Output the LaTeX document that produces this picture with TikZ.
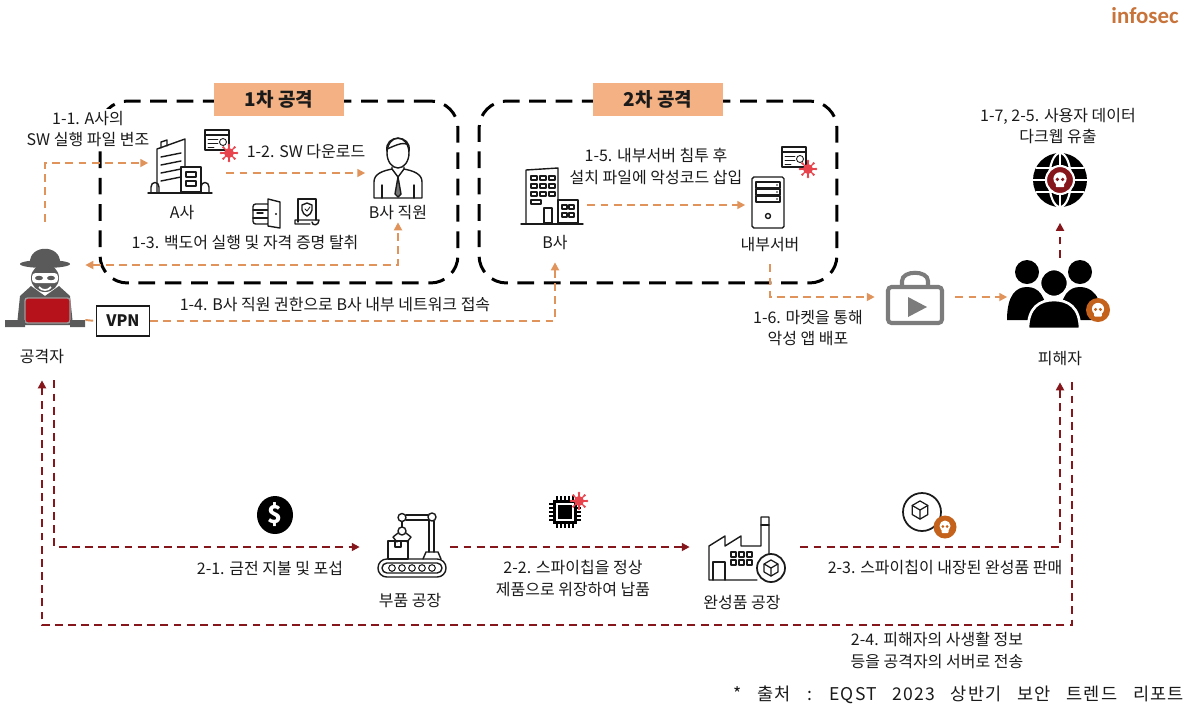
\documentclass[tikz,border=0pt]{standalone}
\usepackage{fontspec}
\setmainfont{Noto Sans CJK KR}
\newfontfamily\brandfont{Carlito}
\newfontfamily\srcfont{Noto Sans CJK KR}[WordSpace=3.2, LetterSpace=6]
\usetikzlibrary{arrows.meta, positioning, calc}

\definecolor{ink}{HTML}{1A1A1A}
\definecolor{flowor}{HTML}{E0945C}
\definecolor{tagor}{HTML}{F4B183}
\definecolor{leakred}{HTML}{84161C}
\definecolor{spygray}{HTML}{5A5A5A}
\definecolor{spyred}{HTML}{B5121B}
\definecolor{germred}{HTML}{E8444E}
\definecolor{skullor}{HTML}{C4621C}
\definecolor{brandor}{HTML}{C8733A}
\definecolor{bagray}{HTML}{7C7C7C}

\begin{document}
\begin{tikzpicture}[
    x=0.02cm, y=-0.02cm,
    flow label/.style={font=\fontsize{9.1}{12.5}\selectfont, text=ink, inner sep=1pt, align=center},
    stage/.style={draw=black, line width=1.7pt, dash pattern=on 9.5pt off 5.5pt,
        rounded corners=0.55cm, minimum width=7.16cm, minimum height=3.64cm},
    stage tag/.style={fill=tagor, text=ink, minimum width=2.6cm, minimum height=0.66cm,
        font=\fontsize{10.8}{12}\selectfont\bfseries},
    spot/.style={inner sep=0pt},
    flow/.style={draw=flowor, line width=1.1pt, dash pattern=on 4.5pt off 3pt,
        -{Triangle[length=4.5pt, width=4.5pt]}},
    flow both/.style={flow, {Triangle[length=4.5pt, width=4.5pt]}-{Triangle[length=4.5pt, width=4.5pt]}},
    leak/.style={draw=leakred, line width=1.1pt, dash pattern=on 4.5pt off 3pt,
        -{Triangle[length=4.5pt, width=4.5pt]}},
    icon/.style={draw=ink, line width=0.8pt, line join=round, line cap=round},
    % --- small icons ---
    pics/skull/.style={code={
        \fill[white] (0,-1) circle (5.5);
        \fill[white, rounded corners=0.5pt] (-3.5,2) rectangle (3.5,6);
        \fill[#1] (-2.2,-0.5) circle (1.5) (2.2,-0.5) circle (1.5);
    }},
    pics/germ/.style={code={
        \fill[germred] (0,0) circle (5);
        \foreach \a in {0,45,...,315} {
            \draw[germred, line width=0.7pt] (0,0) -- (\a:8);
            \fill[germred] (\a:8) circle (1.3);
        }
    }},
    pics/codewin/.style={code={
        \draw[icon, fill=white] (-12,-10) rectangle (12,10);
        \draw[icon] (-12,-5) -- (12,-5);
        \draw[icon, line width=0.5pt] (-9,-1) -- (1,-1) (-9,3) -- (1,3) (-9,7) -- (-3,7);
        \draw[icon, line width=0.5pt] (6,2) circle (3.5);
    }},
    pics/cube/.style={code={
        \draw[icon, line width=0.7pt] (0,-7) -- (6,-3.5) -- (6,3.5) -- (0,7) -- (-6,3.5) -- (-6,-3.5) -- cycle;
        \draw[icon, line width=0.7pt] (-6,-3.5) -- (0,0) -- (6,-3.5) (0,0) -- (0,7);
    }},
    % --- actors ---
    pics/spy/.style={code={
        \fill[spygray] (-28,35) -- (-25,6) -- (-14,-4) -- (0,6) -- (14,-4) -- (25,6) -- (28,35) -- cycle;
        \fill[spygray] (0,-12) circle (14);
        \fill[white, rounded corners=2pt] (-13,-17) rectangle (13,-7);
        \fill[spygray] (-6,-12) ellipse [x radius=4, y radius=2.2] (6,-12) ellipse [x radius=4, y radius=2.2];
        \draw[white, line width=1pt] (-6,-3) .. controls (-3,1) and (3,1) .. (6,-3);
        \fill[spygray] (-15,-27) .. controls (-16,-46) and (16,-46) .. (15,-27) -- cycle;
        \fill[spygray] (0,-26) ellipse [x radius=25, y radius=4];
        \filldraw[fill=spyred, draw=spygray!60, line width=0.8pt, rounded corners=1.5pt] (-20,8) rectangle (25,33);
        \fill[spygray] (-40,30) rectangle (-20,37) (25,30) rectangle (40,37);
    }},
    pics/employee/.style={code={
        \draw[icon] (0,-13) ellipse [x radius=11, y radius=15];
        \draw[icon] (-11,-15) .. controls (-14,-32) and (14,-32) .. (11,-15);
        \draw[icon] (-11,-17) .. controls (-4,-20) and (4,-24) .. (9,-22);
        \draw[icon] (-24,32) -- (-24,16) .. controls (-24,8) and (-16,5) .. (-6,3)
            (6,3) .. controls (16,5) and (24,8) .. (24,16) -- (24,32) -- (-24,32);
        \draw[icon] (-6,1) -- (-6,3) -- (0,11) -- (6,3) -- (6,1);
        \filldraw[icon, fill=ink!60] (0,11) -- (-3,28) -- (0,31) -- (3,28) -- cycle;
        \draw[icon] (-16,19) -- (-16,32) (16,19) -- (16,32);
    }},
    pics/crowd/.style={code={
        \fill[black] (-28,-21) circle (12) (25,-21) circle (12);
        \fill[black] (-48,27) .. controls (-48,2) and (-39,-6) .. (-28,-6) .. controls (-17,-6) and (-8,2) .. (-8,27) -- cycle;
        \fill[black] (5,27) .. controls (5,2) and (14,-6) .. (25,-6) .. controls (36,-6) and (47,2) .. (47,27) -- cycle;
        \filldraw[black, draw=white, line width=1.5pt] (-1,-10) circle (14);
        \filldraw[black, draw=white, line width=1.5pt] (-27,36) .. controls (-27,14) and (-15,7) .. (-1,7) .. controls (13,7) and (25,14) .. (25,36) -- cycle;
        \fill[skullor] (43,17) circle (12);
        \pic[scale=1.1] at (43,17) {skull=skullor};
    }},
    % --- places ---
    pics/tower/.style={code={
        \draw[icon] (-24,27) -- (-24,-16) -- (4,-26) -- (4,2);
        \draw[icon] (-20,-17) -- (-20,-23) -- (-14,-25) -- (-14,-19);
        \foreach \yy in {-8,0,8,16}
            \draw[icon] (-20,\yy) -- (0,\yy-4);
        \draw[icon] (0,2) rectangle (20,27);
        \draw[icon] (5,7) rectangle (15,12) (5,16) rectangle (15,21);
        \draw[icon] (-30,27) -- (-30,22) .. controls (-30,16) and (-22,16) .. (-22,22) -- (-22,27);
        \draw[icon] (20,27) -- (20,22) .. controls (20,16) and (28,16) .. (28,22) -- (28,27);
        \draw[icon] (-33,28) -- (31,28);
    }},
    pics/bcomp/.style={code={
        \draw[icon] (-26,27) -- (-26,-26) -- (6,-28) -- (6,27);
        \foreach \xx in {-21,-12,-3}
            \foreach \yy in {-20,-12,-4}
                \draw[icon, line width=0.6pt] (\xx,\yy) rectangle ++(6,4);
        \draw[icon, line width=0.6pt] (-21,4) rectangle ++(10,4);
        \draw[icon] (-8,12) rectangle (0,27);
        \draw[icon] (6,4) rectangle (26,27);
        \foreach \xx in {10,17}
            \foreach \yy in {9,17}
                \draw[icon, line width=0.6pt] (\xx,\yy) rectangle ++(5,4);
        \draw[icon] (-31,28) -- (31,28);
    }},
    pics/server/.style={code={
        \draw[icon, rounded corners=1pt] (-16,-25) rectangle (16,26);
        \foreach \yy in {-20,-13,-6} {
            \draw[icon] (-12,\yy) rectangle (12,\yy+6);
            \fill[ink] (9,\yy+3) circle (0.9);
        }
        \draw[icon] (0,14) circle (2.5);
    }},
    pics/vault/.style={code={
        \draw[icon, rounded corners=1.5pt] (-15,-9) rectangle (2,11);
        \draw[icon] (-15,-3) -- (2,-3) (-15,5) -- (2,5);
        \draw[icon] (-11,0) -- (-5,0);
        \filldraw[icon, fill=white] (0,-14) -- (12,-11) -- (12,15) -- (0,13) -- cycle;
        \fill[ink] (8,1) circle (1.1);
    }},
    pics/cert/.style={code={
        \draw[icon] (-8,10) -- (-8,-13) -- (10,-13) -- (10,8);
        \draw[icon] (-11,8) -- (13,8) .. controls (13,14) and (6,14) .. (6,10) (-11,8) -- (-11,12) -- (4,12);
        \draw[icon] (1,-9) -- (6,-7) -- (6,-2) .. controls (6,1) and (3,3) .. (1,4) .. controls (-1,3) and (-4,1) .. (-4,-2) -- (-4,-7) -- cycle;
        \draw[icon, line width=0.5pt] (-1,-3) -- (1,-1) -- (4,-5);
    }},
    pics/market/.style={code={
        \draw[bagray, line width=2.3pt, rounded corners=2pt] (-27,-15) rectangle (27,21);
        \draw[bagray, line width=2.3pt] (-13,-15) -- (-13,-21) .. controls (-13,-32) and (13,-32) .. (13,-21) -- (13,-15);
        \fill[bagray] (-7,-5) -- (-7,15) -- (12,5) -- cycle;
    }},
    pics/globe/.style={code={
        \fill[black] (0,0) circle (27);
        \draw[white, line width=1.2pt] (0,0) ellipse [x radius=11, y radius=27];
        \draw[white, line width=1.2pt] (0,-27) -- (0,27) (-27,0) -- (27,0)
            (-24,-12) -- (24,-12) (-24,12) -- (24,12);
        \filldraw[fill=leakred, draw=white, line width=1.2pt] (0,0) circle (14);
        \pic[scale=1.2] at (0,0) {skull=leakred};
    }},
    pics/coin/.style={code={
        \fill[black] (0,0) ellipse [x radius=18, y radius=19];
        \node[text=white, font=\fontsize{14}{14}\selectfont\bfseries] (-sign) at (0,0) {\$};
    }},
    pics/robot/.style={code={
        \draw[icon, rounded corners=5pt] (-34,12) rectangle (34,30);
        \draw[icon, rounded corners=2.8pt] (-30,16) rectangle (30,26);
        \foreach \xx in {-20,-10,0,10,20}
            \draw[icon, line width=0.6pt] (\xx,21) circle (3.3);
        \draw[icon] (-24,-6) rectangle (-4,12);
        \draw[icon] (-17,-6) rectangle (-11,0);
        \draw[icon] (11,12) -- (14,5) -- (26,5) -- (29,12);
        \draw[icon] (17,5) -- (17,-27) (22,5) -- (22,-26);
        \draw[icon] (16,-32) -- (-6,-32) (16,-27) -- (-6,-27);
        \filldraw[icon, fill=white] (20,-30) circle (4);
        \filldraw[icon, fill=white] (-10,-29.5) circle (4);
        \draw[icon] (-10,-25) -- (-10,-20);
        \draw[icon] (-10,-16) circle (4);
        \draw[icon] (-14,-14) -- (-19,-10) -- (-15,-5) (-6,-14) -- (-1,-10) -- (-5,-5);
    }},
    pics/chip/.style={code={
        \foreach \t in {-8,-4,0,4,8}
            \draw[black, line width=1pt] (\t,-16) -- (\t,16) (-16,\t) -- (16,\t);
        \fill[black] (-12,-12) rectangle (12,12);
        \draw[white, line width=0.8pt] (-8,-8) rectangle (8,8);
        \pic at (14,-11) {germ};
    }},
    pics/factory/.style={code={
        \draw[icon] (12,30) -- (-36,30) -- (-36,-4) -- (-20,-14) -- (-20,-4) -- (-4,-14) -- (-4,-4)
            -- (16,-4) -- (16,-33) -- (24,-33) -- (24,4);
        \draw[icon] (16,-25) -- (24,-25);
        \draw[icon] (-32,30) -- (-32,12) -- (-20,12) -- (-20,30);
        \foreach \xx in {-14,-6,2}
            \foreach \yy in {2,10}
                \draw[icon, line width=0.6pt] (\xx,\yy) rectangle ++(5,5);
        \filldraw[icon, fill=white, line width=1pt] (26,18) circle (14);
        \pic[scale=1.15] at (26,18) {cube};
    }},
    pics/parcel/.style={code={
        \draw[icon, line width=1pt] (0,0) circle (19);
        \pic[scale=1.3] at (-2,-2) {cube};
        \fill[skullor] (23,15) circle (11.5);
        \pic at (23,15) {skull=skullor};
    }}
]

    \fill[white] (0,0) rectangle (1193,708);
    \useasboundingbox (0,0) rectangle (1193,708);

    \node[font=\brandfont\fontsize{13}{13}\selectfont\bfseries, text=brandor] (brand) at (1145,16) {infosec};

    % --- attack stages ---
    \node[stage] (stage1) at (279,192) {};
    \node[stage] (stage2) at (658,192) {};
    \node[stage tag] (tag1) at (stage1.north) {1차 공격};
    \node[stage tag] (tag2) at (stage2.north) {2차 공격};

    % --- actors and places ---
    \node[spot, minimum width=1.6cm, minimum height=1.68cm] (atk) at (45,290) {};
    \pic at (atk) {spy};
    \node[flow label] (atklbl) at (42,356) {공격자};

    \node[spot, minimum width=1.3cm, minimum height=1.2cm] (acomp) at (181,163) {};
    \pic at (181,165) {tower};
    \pic at (217,140) {codewin};
    \pic at (229,153) {germ};
    \node[flow label] (acomplbl) at (182,213) {A사};

    \node[spot, minimum width=1.3cm, minimum height=1.2cm] (emp) at (398,163) {};
    \pic at (398,166) {employee};
    \node[flow label] (emplbl) at (398,213) {B사 직원};

    \pic at (268,213) {vault};
    \pic at (306,212) {cert};

    \node[spot, minimum width=1.4cm, minimum height=1.1cm] (bco) at (552,205) {};
    \pic at (552,196) {bcomp};
    \node[flow label] (bcolbl) at (555,243) {B사};

    \node[spot, minimum width=0.9cm, minimum height=1.0cm] (srv) at (768,205) {};
    \pic at (768,202) {server};
    \pic at (794,157) {codewin};
    \pic at (808,169) {germ};
    \node[flow label] (srvlbl) at (770,245) {내부서버};

    \node[spot, minimum width=1.6cm, minimum height=1.0cm] (mkt) at (915,297) {};
    \pic at (915,302) {market};

    \node[spot, minimum width=2.1cm, minimum height=1.56cm] (vic) at (1060,297) {};
    \pic at (1055,293) {crowd};
    \node[flow label] (viclbl) at (1060,358) {피해자};

    \node[spot, circle, minimum size=1.1cm] (globe) at (1060,180) {};
    \pic at (globe) {globe};

    \node[draw=ink, line width=0.8pt, minimum width=1.06cm, minimum height=0.6cm,
        font=\fontsize{9}{10}\selectfont\bfseries, text=ink] (vpn) at (123,321) {VPN};

    \pic (cash) at (275,515) {coin};
    \node[spot, minimum width=1.8cm, minimum height=1.2cm] (part) at (405,547) {};
    \pic at (412,547) {robot};
    \node[flow label] (partlbl) at (410,600) {부품 공장};

    \pic at (565,512) {chip};

    \node[spot, minimum width=2.2cm, minimum height=1.2cm] (fin) at (745,547) {};
    \pic at (745,550) {factory};
    \node[flow label] (finlbl) at (742,602) {완성품 공장};

    \pic at (922,512) {parcel};

    % --- step texts ---
    \node[flow label, fill=white] (t11) at (88,129) {1-1. A사의\\SW 실행 파일 변조};
    \node[flow label] (t12) at (306,152) {1-2. SW 다운로드};
    \node[flow label] (t13) at (245,243) {1-3. 백도어 실행 및 자격 증명 탈취};
    \node[flow label] (t14) at (335,305) {1-4. B사 직원 권한으로 B사 내부 네트워크 접속};
    \node[flow label] (t15) at (656,166) {1-5. 내부서버 침투 후\\설치 파일에 악성코드 삽입};
    \node[flow label] (t16) at (808,328) {1-6. 마켓을 통해\\악성 앱 배포};
    \node[flow label] (t17) at (1058,126) {1-7, 2-5. 사용자 데이터\\다크웹 유출};
    \node[flow label] (t21) at (270,568) {2-1. 금전 지불 및 포섭};
    \node[flow label] (t22) at (573,578) {2-2. 스파이칩을 정상\\제품으로 위장하여 납품};
    \node[flow label] (t23) at (945,567) {2-3. 스파이칩이 내장된 완성품 판매};
    \node[flow label] (t24) at (937,650) {2-4. 피해자의 사생활 정보\\등을 공격자의 서버로 전송};

    \node[flow label, anchor=east, font=\srcfont\fontsize{10}{12}\selectfont] (src) at (1186,695)
        {* 출처 : EQST 2023 상반기 보안 트렌드 리포트};

    % --- first chain (orange) ---
    \draw[flow] ([yshift=0.52cm]atk.north) |- (acomp.west);
    \draw[flow] ([shift={(0.25cm,-0.2cm)}]acomp.east) -- ([yshift=-0.2cm]emp.west);
    \draw[flow both] ([yshift=0.5cm]atk.east) -| (emplbl.south);
    \draw[flow, -] ([yshift=-0.6cm]atk.east) -- (vpn.west);
    \draw[flow] (vpn.east) -| ([yshift=-0.2cm]bcolbl.south);
    \draw[flow] (bco.east) -- (srv.west);
    \draw[flow] ([yshift=-0.2cm]srvlbl.south) |- (mkt.west);
    \draw[flow] (mkt.east) -- (vic.west);
    \draw[leak, shorten >=0.3cm] (vic.north) -- (globe.south);

    % --- second chain (dark red) ---
    \coordinate (back) at (42,625);
    \draw[leak] ([shift={(0.24cm,-0.3cm)}]atklbl.south) |- (part.west);
    \draw[leak] (part.east) -- (fin.west);
    \draw[leak] (fin.east) -| ([yshift=-0.3cm]viclbl.south);
    \draw[leak] ([shift={(0.24cm,-0.3cm)}]viclbl.south) |- (back) -| ([yshift=-0.3cm]atklbl.south);

\end{tikzpicture}
\end{document}
